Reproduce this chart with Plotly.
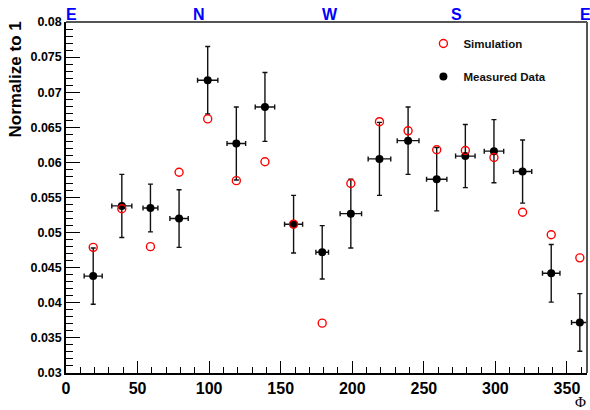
import plotly.graph_objects as go

# ---- data ----
phi = [19, 39, 59, 79, 99, 119, 139, 159, 179, 199, 219, 239, 259, 279, 299, 319, 339, 359]
measured = [0.0438, 0.0538, 0.0535, 0.0520, 0.0717, 0.0627, 0.0679, 0.0512, 0.0472,
            0.0527, 0.0605, 0.0631, 0.0576, 0.0609, 0.0616, 0.0587, 0.0442, 0.0372]
measured_err = [0.0040, 0.0045, 0.0034, 0.0041, 0.0048, 0.0052, 0.0049, 0.0041, 0.0038,
                0.0049, 0.0052, 0.0048, 0.0045, 0.0045, 0.0045, 0.0045, 0.0041, 0.0041]
phi_err = [6.3, 7.0, 5.2, 6.4, 7.1, 6.5, 6.8, 6.3, 4.4, 7.5, 7.9, 7.6, 7.1, 6.8, 6.8, 6.4, 6.1, 5.8]
simulation = [0.0479, 0.0534, 0.0480, 0.0586, 0.0662, 0.0574, 0.0601, 0.0512, 0.0371,
              0.0570, 0.0658, 0.0645, 0.0618, 0.0617, 0.0607, 0.0529, 0.0497, 0.0464]
compass_labels = ["E", "N", "W", "S", "E"]
compass_pos = [3.8, 93, 184.4, 272.6, 362.7]

FONT = "Liberation Sans"

fig = go.Figure()
fig.add_trace(go.Scatter(
    x=phi, y=measured, mode="markers", name="Measured Data", legendrank=2, legendgroup="b",
    marker=dict(color="black", size=8, symbol="circle"),
    error_y=dict(type="data", array=measured_err, color="#111", thickness=1.4, width=2.5),
    error_x=dict(type="data", array=phi_err, color="#111", thickness=1.4, width=2.5),
))
fig.add_trace(go.Scatter(
    x=phi, y=simulation, mode="markers", name="Simulation", legendrank=1, legendgroup="a",
    marker=dict(color="red", size=8, symbol="circle-open",
                line=dict(color="red", width=1.4)),
))

for lab, pos in zip(compass_labels, compass_pos):
    fig.add_annotation(x=pos, y=1.02, xref="x", yref="paper", text=lab, showarrow=False,
                       font=dict(family=FONT, size=16, color="#0000ff", weight="bold"),
                       xanchor="center", yanchor="middle")

fig.add_annotation(x=-0.097, y=0.8375, xref="paper", yref="paper", text="Normalize to 1",
                   textangle=-90, showarrow=False,
                   font=dict(family=FONT, size=17, color="black", weight="bold"),
                   xanchor="center", yanchor="middle")
fig.add_annotation(x=0.987, y=-0.0827, xref="paper", yref="paper", text="Φ",
                   showarrow=False, font=dict(family="Liberation Serif", size=15, color="black"),
                   xanchor="center", yanchor="middle")

# top / right frame
fig.add_shape(type="line", xref="paper", yref="paper", x0=0, x1=1, y0=1, y1=1,
              line=dict(color="#555", width=2))
fig.add_shape(type="line", xref="paper", yref="paper", x0=1, x1=1, y0=0, y1=1,
              line=dict(color="#555", width=2))

fig.update_layout(
    width=590, height=410,
    margin=dict(l=66, r=3, t=22, b=37, autoexpand=False),
    plot_bgcolor="white", paper_bgcolor="white",
    showlegend=True,
    legend=dict(x=0.686, y=0.98, xanchor="left", yanchor="top",
                bgcolor="rgba(0,0,0,0)", traceorder="grouped",
                font=dict(family=FONT, size=11.5, color="#111", weight="bold"),
                tracegroupgap=14),
    xaxis=dict(range=[0, 364], dtick=50, tick0=0, ticks="inside", ticklen=12, tickwidth=1.3,
               tickcolor="black", showline=True, linecolor="black", linewidth=1.5,
               showgrid=False, zeroline=False, automargin=False,
               tickfont=dict(family=FONT, size=16, color="black", weight="bold"),
               minor=dict(dtick=10, ticks="inside", ticklen=6, tickwidth=1.3, tickcolor="black",
                          showgrid=False)),
    yaxis=dict(range=[0.03, 0.08], dtick=0.005, tick0=0.03, ticks="inside", ticklen=14,
               tickwidth=1.3, tickcolor="black", showline=True, linecolor="black", linewidth=1.5,
               showgrid=False, zeroline=False, automargin=False,
               tickfont=dict(family=FONT, size=12.5, color="black", weight="bold"),
               minor=dict(dtick=0.001, ticks="inside", ticklen=7, tickwidth=1.3,
                          tickcolor="black", showgrid=False)),
)

fig.write_html("out.html", config={"displayModeBar": False},
               post_script="document.body.style.margin='0px';")
